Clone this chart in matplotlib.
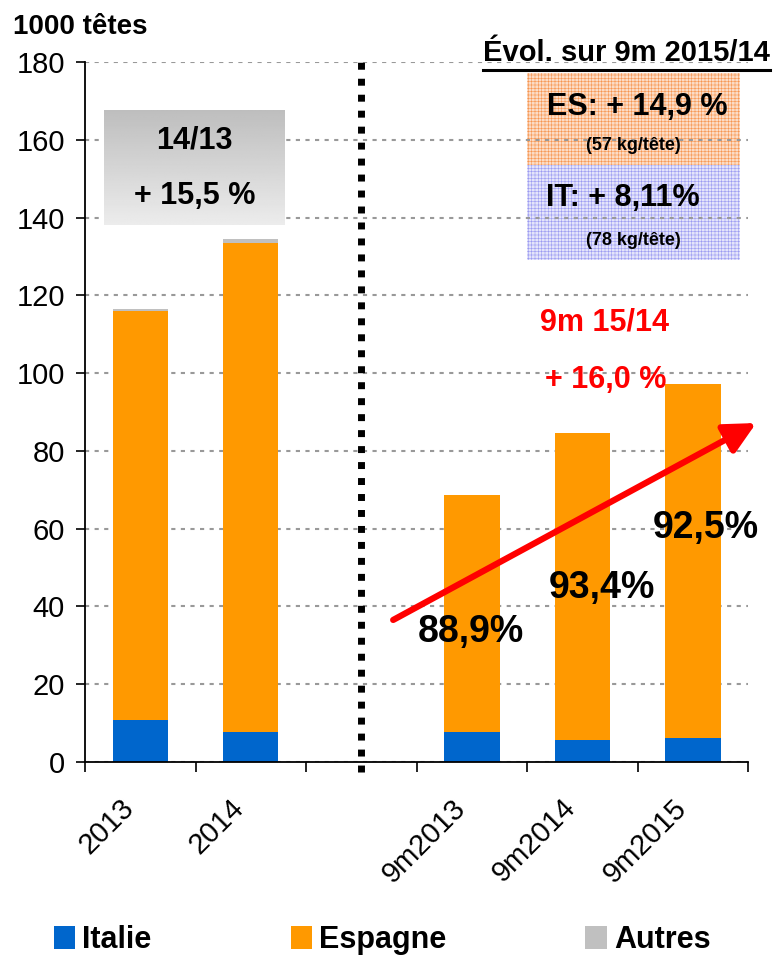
import numpy as np
import matplotlib
matplotlib.use('Agg')
import matplotlib.pyplot as plt
import matplotlib.transforms as mtransforms
from matplotlib.patches import Rectangle
from matplotlib.lines import Line2D

plt.rcParams['font.family'] = ['Liberation Sans', 'DejaVu Sans']
plt.rcParams['hatch.linewidth'] = 0.4

# data (1000 têtes)
categories = ['2013', '2014', '', '9m2013', '9m2014', '9m2015']
italie = [10.8, 7.6, 0, 7.7, 5.6, 6.2]
espagne = [105.3, 125.8, 0, 60.9, 79.1, 90.9]
autres = [0.5, 1.0, 0, 0.0, 0.0, 0.0]
shares = ['88,9%', '93,4%', '92,5%']

col_it = '#0066CC'
col_es = '#FF9900'
col_au = '#C0C0C0'

fig = plt.figure(figsize=(7.73, 9.56), dpi=100)
ax = fig.add_axes([0.110, 0.203, 0.858, 0.732])

x = np.arange(len(categories))
idx = [i for i, c in enumerate(categories) if c]
it = np.array(italie)
es = np.array(espagne)
au = np.array(autres)

ax.bar(x[idx], it[idx], 0.5, color=col_it, label='Italie', zorder=2)
ax.bar(x[idx], es[idx], 0.5, bottom=it[idx], color=col_es, label='Espagne', zorder=2)
ax.bar(x[idx], au[idx], 0.5, bottom=(it + es)[idx], color=col_au, label='Autres', zorder=2)

ax.set_xlim(-0.5, len(categories) - 0.5)
ax.set_ylim(0, 180)
ax.set_yticks(np.arange(0, 181, 20))
ax.tick_params(axis='y', labelsize=21, length=6.5, width=1.2, pad=8)

# ticks at category boundaries, labels at centres
ax.set_xticks(np.arange(-0.5, len(categories)), labels=[])
ax.set_xticks(x[idx], minor=True)
ax.set_xticklabels([categories[i] for i in idx], minor=True, rotation=45,
                   ha='right', va='center', rotation_mode='anchor', fontsize=21)
ax.tick_params(axis='x', which='major', length=7, width=1.2, direction='out')
ax.tick_params(axis='x', which='minor', length=0, pad=30)
shift = mtransforms.ScaledTranslation(-11 / 100, 0, fig.dpi_scale_trans)
for lab in ax.get_xticklabels(minor=True):
    lab.set_transform(lab.get_transform() + shift)

for s in ['top', 'right']:
    ax.spines[s].set_visible(False)
ax.spines['left'].set_linewidth(1.3)
ax.spines['bottom'].set_linewidth(1.3)

ax.set_axisbelow(True)
ax.yaxis.grid(True, color='#999999', linewidth=1.5, linestyle=(0, (2, 2.6)))

# dotted separator
ax.plot([2, 2], [-2.5, 180], color='black', linewidth=5, linestyle=(0, (1, 1.3)),
        solid_capstyle='butt', dash_capstyle='butt', clip_on=False, zorder=3)

# hatched boxes (top right)
ax.add_patch(Rectangle((0.667, 0.853), 0.321, 0.131, transform=ax.transAxes,
                       facecolor='#fcdcc6', edgecolor='#f7954f', hatch='+++++',
                       linewidth=0, zorder=0.3))
ax.add_patch(Rectangle((0.667, 0.717), 0.321, 0.136, transform=ax.transAxes,
                       facecolor='#e4e4fb', edgecolor='#9a9af2', hatch='+++++',
                       linewidth=0, zorder=0.3))
ax.text(0.8326, 0.9357, 'ES: + 14,9 %', transform=ax.transAxes, ha='center', va='center',
        fontsize=22, fontweight='bold', zorder=4)
ax.text(0.8265, 0.8814, '(57 kg/tête)', transform=ax.transAxes, ha='center', va='center',
        fontsize=13, fontweight='bold', zorder=4)
ax.text(0.8115, 0.8057, 'IT: + 8,11%', transform=ax.transAxes, ha='center', va='center',
        fontsize=22, fontweight='bold', zorder=4)
ax.text(0.8265, 0.7457, '(78 kg/tête)', transform=ax.transAxes, ha='center', va='center',
        fontsize=13, fontweight='bold', zorder=4)

# red trend annotation
ax.text(0.7828, 0.6286, '9m 15/14', transform=ax.transAxes, ha='center', va='center',
        fontsize=22, fontweight='bold', color='#FF0000', zorder=4)
ax.text(0.7843, 0.5457, '+ 16,0 %', transform=ax.transAxes, ha='center', va='center',
        fontsize=22, fontweight='bold', color='#FF0000', zorder=4)
ax.annotate('', xy=(1.012, 0.4843), xytext=(0.4646, 0.2029), xycoords='axes fraction',
            annotation_clip=False, zorder=5,
            arrowprops=dict(arrowstyle='-|>,head_length=1.9,head_width=0.95',
                            color='#FF0000', lw=4.5, shrinkA=0, shrinkB=0))

# Espagne shares
share_pos = [(0.5822, 0.1857), (0.7798, 0.2486), (0.9367, 0.3343)]
for (px, py), s in zip(share_pos, shares):
    ax.text(px, py, s, transform=ax.transAxes, ha='center', va='center',
            fontsize=27, fontweight='bold', zorder=6)

# header texts
fig.text(0.0168, 0.9718, '1000 têtes', ha='left', va='center', fontsize=20, fontweight='bold')
fig.text(0.996, 0.9446, 'Évol. sur 9m 2015/14', ha='right', va='center',
         fontsize=21, fontweight='bold')
fig.add_artist(Line2D([483 / 773, 770 / 773], [0.9268, 0.9268], color='black', lw=2.2))

# 14/13 gradient box
bx = fig.add_axes([104 / 773, 1 - 225 / 956, 181 / 773, 115 / 956])
grad = np.linspace(0.745, 0.925, 100).reshape(-1, 1)
bx.imshow(np.repeat(grad, 2, axis=1), cmap='gray', vmin=0, vmax=1, aspect='auto',
          extent=[0, 1, 0, 1], origin='upper')
bx.set_xlim(0, 1)
bx.set_ylim(0, 1)
bx.axis('off')
bx.text(0.5, 0.739, '14/13', ha='center', va='center', fontsize=22, fontweight='bold')
bx.text(0.5, 0.252, '+ 15,5 %', ha='center', va='center', fontsize=22, fontweight='bold')

# legend
handles, labels = ax.get_legend_handles_labels()
leg = fig.legend(handles, labels, loc='center left', bbox_to_anchor=(0.0699, 0.0167),
                 ncol=3, frameon=False, borderpad=0, borderaxespad=0,
                 handlelength=0.7, handleheight=0.8, handletextpad=0.23,
                 columnspacing=4.55, prop={'size': 22, 'weight': 'bold'})

fig.savefig('out.png', dpi=100)
